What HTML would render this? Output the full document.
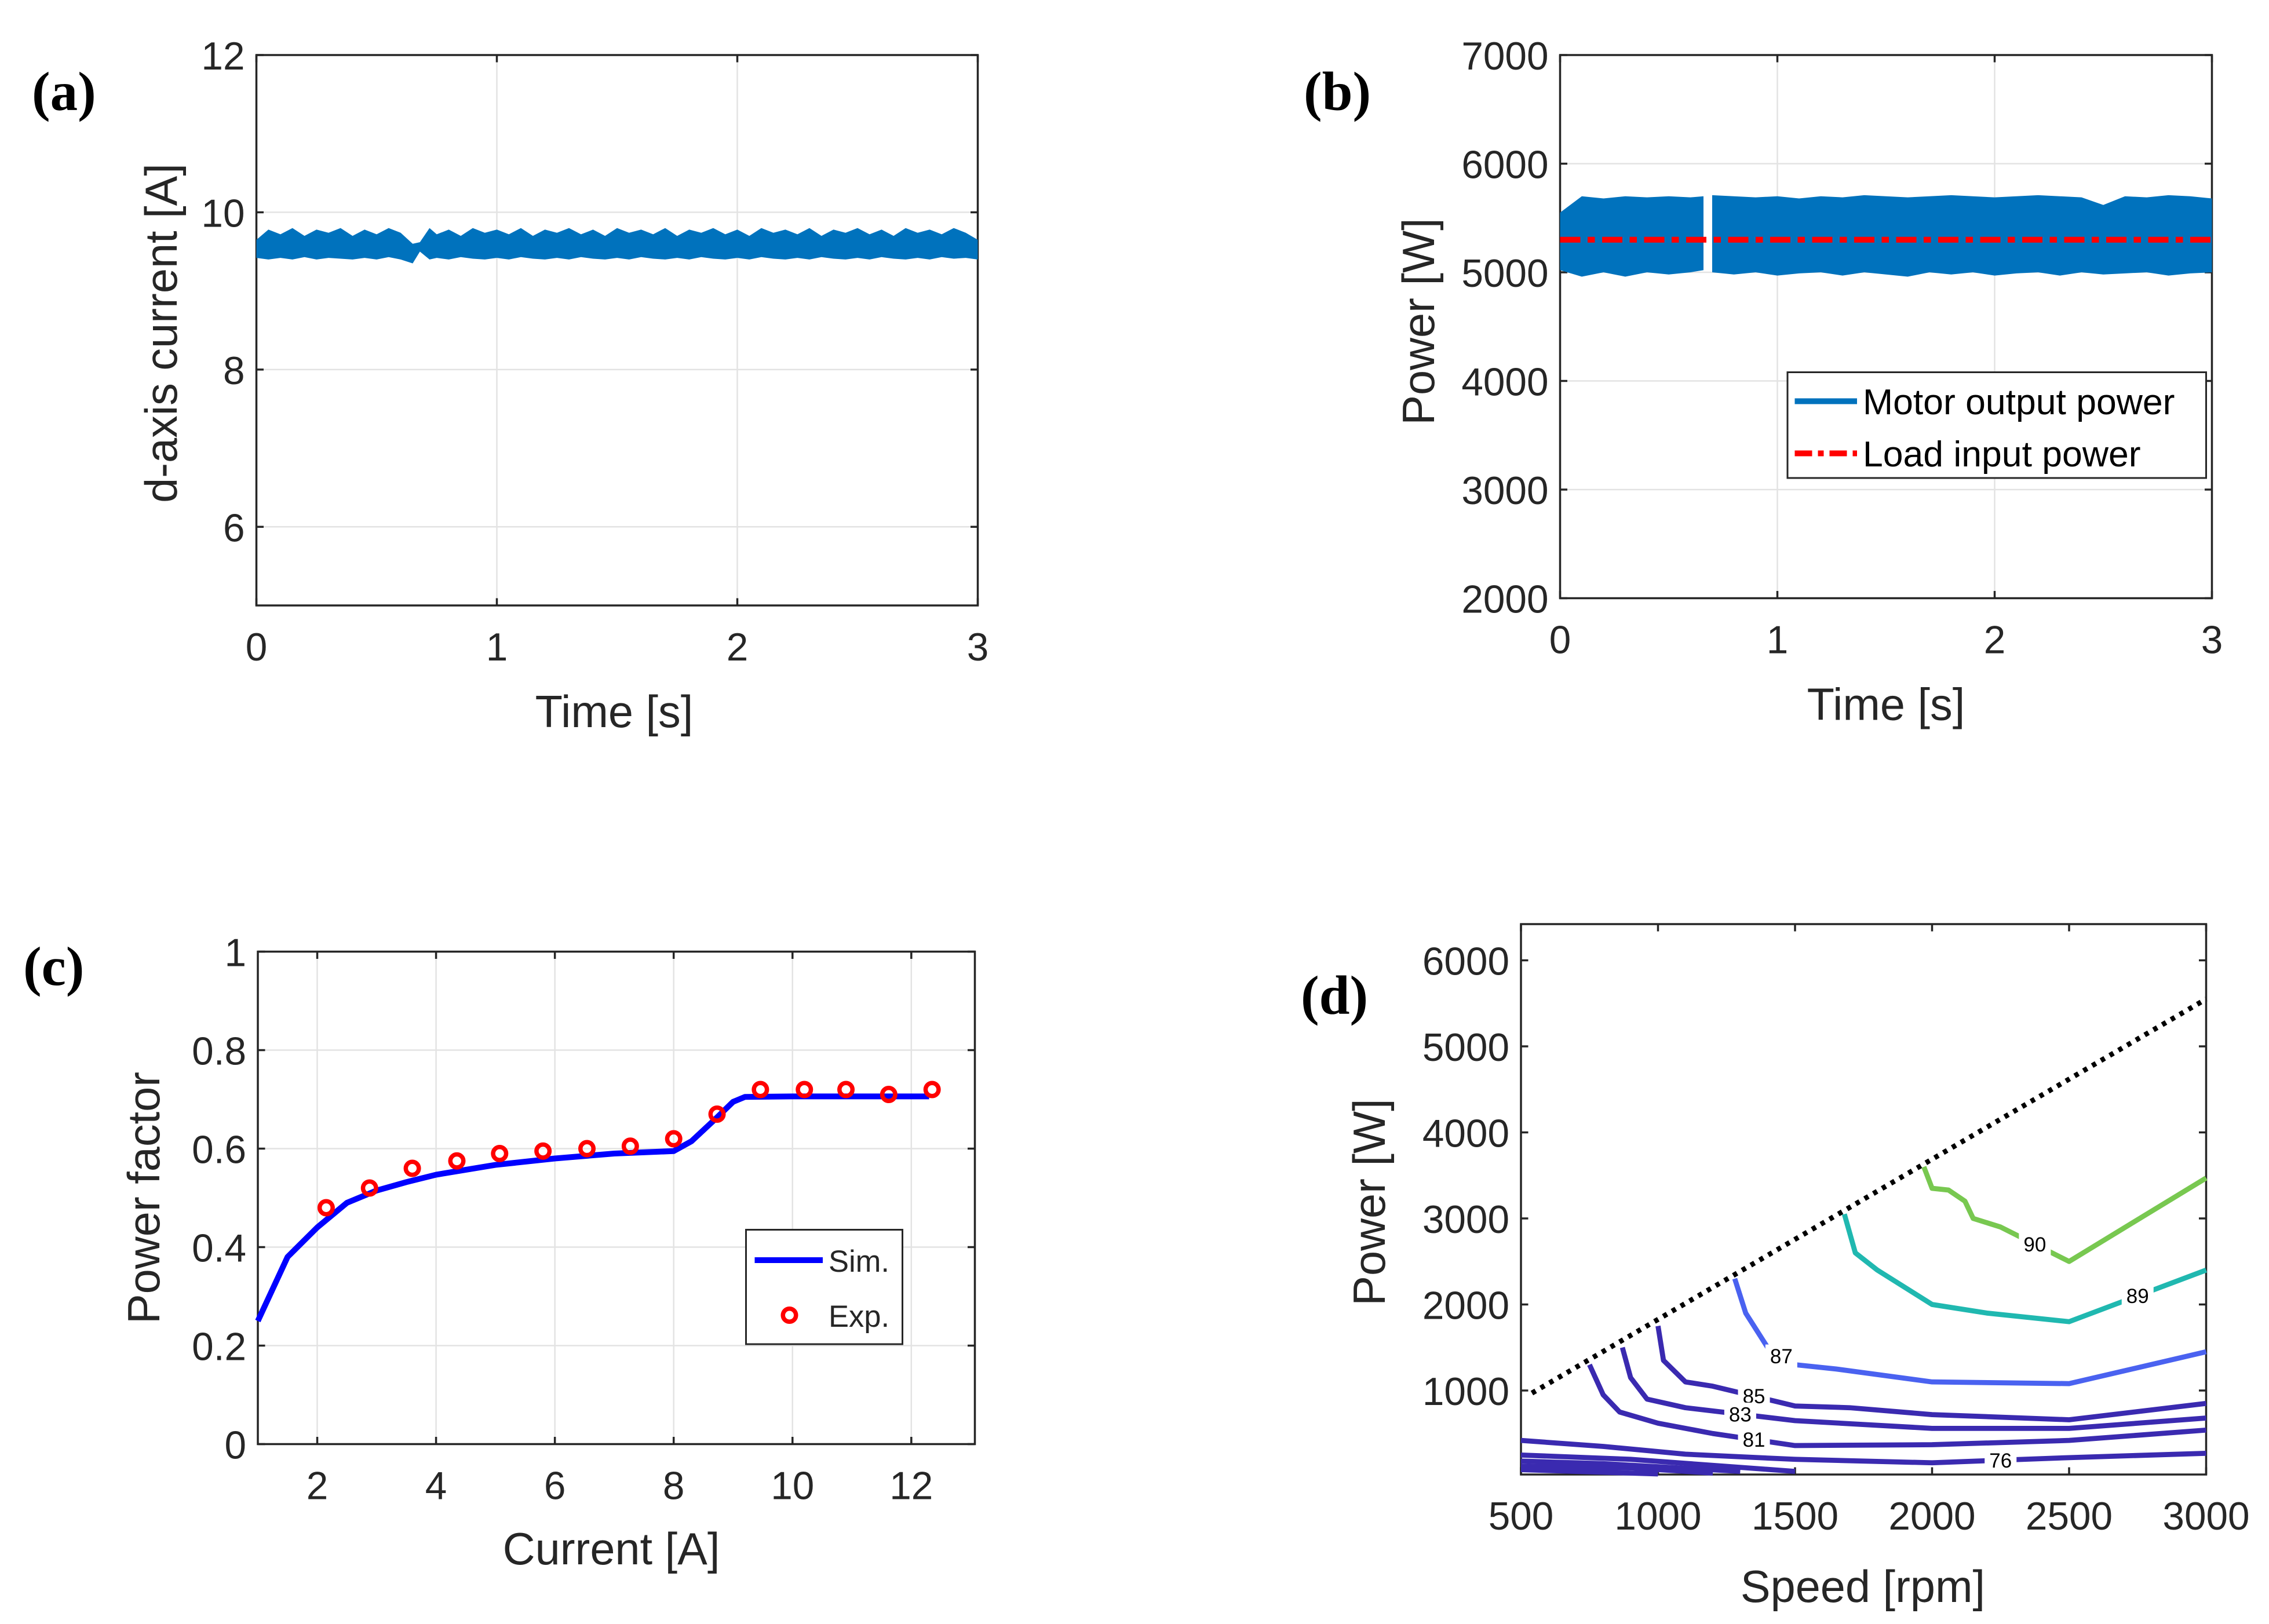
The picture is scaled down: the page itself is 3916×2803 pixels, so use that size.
<!DOCTYPE html>
<html><head><meta charset="utf-8">
<style>
html,body{margin:0;padding:0;background:#fff;}
svg{display:block;}
text{font-family:"Liberation Sans",sans-serif;fill:#262626;}
.pl{font-family:"Liberation Serif",serif;font-weight:bold;fill:#000;font-size:38px;}
.tk{font-size:27px;}
.lab{font-size:31px;}
.grid{stroke:#e3e3e3;stroke-width:1;}
.ax{stroke:#262626;stroke-width:1.4;fill:none;}
</style></head>
<body>
<svg id="fig" width="3916" height="2803" viewBox="0 0 1566.4 1121.2">
<rect width="1566.4" height="1121.2" fill="#fff"/>
<g id="ga"></g>
<g id="gb"></g>
<g id="gc"></g>
<g id="gd"></g>
</svg>
<script>
// ---- Panel (a) data ----
const aTime=[0,0.05,0.1,0.15,0.2,0.25,0.3,0.35,0.4,0.45,0.5,0.55,0.6,0.65,0.68,0.72,0.75,0.8,0.85,0.9,0.95,1,1.05,1.1,1.15,1.2,1.25,1.3,1.35,1.4,1.45,1.5,1.55,1.6,1.65,1.7,1.75,1.8,1.85,1.9,1.95,2,2.05,2.1,2.15,2.2,2.25,2.3,2.35,2.4,2.45,2.5,2.55,2.6,2.65,2.7,2.75,2.8,2.85,2.9,2.95,3];
const aUpper=[9.65,9.78,9.72,9.8,9.7,9.78,9.74,9.8,9.7,9.78,9.72,9.8,9.74,9.6,9.62,9.8,9.72,9.78,9.7,9.8,9.74,9.78,9.72,9.8,9.7,9.78,9.74,9.8,9.72,9.78,9.7,9.8,9.74,9.78,9.72,9.8,9.7,9.78,9.74,9.8,9.72,9.78,9.7,9.8,9.74,9.78,9.72,9.8,9.7,9.78,9.74,9.8,9.72,9.78,9.7,9.8,9.74,9.78,9.72,9.8,9.74,9.65];
const aLower=[9.42,9.4,9.42,9.4,9.43,9.4,9.42,9.41,9.4,9.42,9.4,9.43,9.4,9.35,9.5,9.4,9.42,9.4,9.43,9.41,9.4,9.42,9.4,9.43,9.41,9.4,9.42,9.4,9.43,9.41,9.4,9.42,9.4,9.43,9.41,9.4,9.42,9.4,9.43,9.41,9.4,9.42,9.4,9.43,9.41,9.4,9.42,9.4,9.43,9.41,9.4,9.42,9.4,9.43,9.41,9.4,9.42,9.4,9.43,9.41,9.42,9.4];
const aXTicks=[0,1,2,3];
const aYTicks=[6,8,10,12];
// ---- Panel (b) data ----
const bTime=[0,0.1,0.2,0.3,0.4,0.5,0.6,0.66,0.7,0.8,0.9,1,1.1,1.2,1.3,1.4,1.5,1.6,1.7,1.8,1.9,2,2.1,2.2,2.3,2.4,2.5,2.6,2.7,2.8,2.9,3];
const bUpper=[5550,5700,5680,5700,5690,5700,5690,5700,5710,5700,5690,5700,5680,5700,5690,5710,5700,5690,5700,5710,5700,5690,5700,5710,5700,5690,5620,5700,5690,5710,5700,5680];
const bLower=[5020,4960,5000,4960,5000,4980,5000,5020,5000,4980,5000,4970,4990,5000,4970,5000,4980,4960,5000,4980,5000,4970,4990,5000,4970,5000,4980,4990,5000,4970,4990,5000];
const bGap=[0.66,0.7];
const bLoad=5300;
const bXTicks=[0,1,2,3];
const bYTicks=[2000,3000,4000,5000,6000,7000];
// ---- Panel (c) data ----
const cSimX=[1,1.5,2,2.5,3,3.5,4,5,6,7,8,8.3,8.7,9,9.2,10,11,12.3];
const cSimY=[0.25,0.38,0.44,0.49,0.515,0.532,0.547,0.567,0.58,0.59,0.595,0.615,0.66,0.695,0.705,0.706,0.706,0.706];
const cExpX=[2.15,2.88,3.6,4.35,5.07,5.8,6.54,7.27,8,8.73,9.46,10.2,10.9,11.62,12.35];
const cExpY=[0.48,0.52,0.56,0.575,0.59,0.595,0.6,0.605,0.62,0.67,0.72,0.72,0.72,0.71,0.72];
const cXTicks=[2,4,6,8,10,12];
const cYTicks=[0,0.2,0.4,0.6,0.8,1];
// ---- Panel (d) data ----
const dLimitX=[540,3000];
const dLimitY=[970,5550];
const dLevels=[90,89,87,85,83,81,76];
const dColors=["#78c850","#20b8b0","#4a62f0","#3a2ab0","#3a2ab0","#3a2ab0","#3a2ab0"];
const dLabelSeg=[5,5,2,3,3,4,4];
const dC90x=[1970,2000,2060,2120,2150,2250,2500,3000], dC90y=[3600,3350,3330,3200,3000,2900,2500,3470];
const dC89x=[1680,1720,1800,2000,2200,2500,3000], dC89y=[3050,2600,2400,2000,1900,1800,2400];
const dC87x=[1280,1320,1400,1500,1650,2000,2500,3000], dC87y=[2300,1900,1500,1300,1250,1100,1080,1450];
const dC85x=[1000,1020,1100,1200,1500,1700,2000,2500,3000], dC85y=[1750,1350,1100,1050,820,800,720,660,850];
const dC83x=[870,900,960,1100,1500,2000,2500,3000], dC83y=[1500,1150,900,800,650,560,560,680];
const dC81x=[750,800,860,1000,1200,1500,2000,2500,3000], dC81y=[1300,950,750,620,500,360,370,420,540];
const dC76x=[500,800,1100,1500,2000,2500,3000], dC76y=[420,350,260,200,160,220,270];
const dLowX=[[500,900,1500],[500,800,1300],[500,900,1200],[500,700,1000]];
const dLowY=[[250,200,60],[180,150,60],[120,100,40],[80,60,30]];
const dXTicks=[500,1000,1500,2000,2500,3000];
const dYTicks=[1000,2000,3000,4000,5000,6000];

const NS="http://www.w3.org/2000/svg";
function mk(p,tag,at,txt){const e=document.createElementNS(NS,tag);for(const k in at)e.setAttribute(k,at[k]);if(txt!==undefined)e.textContent=txt;p.appendChild(e);return e;}
function lin(d0,d1,r0,r1){return v=>r0+(v-d0)*(r1-r0)/(d1-d0);}
function frame(g,L,R,T,B,xs,ys,xt,yt,gridOn){
  if(gridOn){xt.forEach(v=>{const l=mk(g,'line',{x1:xs(v),x2:xs(v),y1:T,y2:B,class:'grid'});});
  yt.forEach(v=>{const l=mk(g,'line',{x1:L,x2:R,y1:ys(v),y2:ys(v),class:'grid'});});}
  const r=mk(g,'rect',{x:L,y:T,width:R-L,height:B-T,class:'ax'});
  
  xt.forEach(v=>{mk(g,'line',{x1:xs(v),x2:xs(v),y1:B,y2:B-5,class:'ax'});mk(g,'line',{x1:xs(v),x2:xs(v),y1:T,y2:T+5,class:'ax'});
    const t=mk(g,'text',{x:xs(v),y:B+38,'text-anchor':'middle',class:'tk'},v);
    });
  yt.forEach(v=>{mk(g,'line',{x1:L,x2:L+5,y1:ys(v),y2:ys(v),class:'ax'});mk(g,'line',{x1:R,x2:R-5,y1:ys(v),y2:ys(v),class:'ax'});
    const t=mk(g,'text',{x:L-8,y:ys(v)+10,'text-anchor':'end',class:'tk'},v);
    });
}
function band(g,xs,ys,t,up,lo,col){
  let pts=t.map((v,i)=>xs(v)+','+ys(up[i]));
  for(let i=t.length-1;i>=0;i--)pts.push(xs(t[i])+','+ys(lo[i]));
  return mk(g,'polygon',{points:pts.join(' '),fill:col});
}
// Panel a
(function(){
  const g=document.getElementById('ga');
  const xs=lin(0,3,177,675), ys=lin(5,12,418,38);
  frame(g,177,675,38,418,xs,ys,aXTicks,aYTicks,true);
  const p=band(g,xs,ys,aTime,aUpper,aLower,'#0072bd');
  
  let t=mk(g,'text',{x:424,y:502,'text-anchor':'middle',class:'lab'},'Time [s]');
  
  t=mk(g,'text',{x:0,y:0,transform:'translate(122,230) rotate(-90)','text-anchor':'middle',class:'lab'},'d-axis current [A]');
  
  t=mk(g,'text',{x:22,y:76,class:'pl'},'(a)');
  
})();
// Panel b
(function(){
  const g=document.getElementById('gb');
  const xs=lin(0,3,1077,1527), ys=lin(2000,7000,413,38);
  frame(g,1077,1527,38,413,xs,ys,bXTicks,bYTicks,true);
  const i0=bTime.indexOf(bGap[0]),i1=bTime.indexOf(bGap[1]);
  let p=band(g,xs,ys,bTime.slice(0,i0+1),bUpper.slice(0,i0+1),bLower.slice(0,i0+1),'#0072bd');
  
  p=band(g,xs,ys,bTime.slice(i1),bUpper.slice(i1),bLower.slice(i1),'#0072bd');
  
  p=mk(g,'line',{x1:xs(0),x2:xs(3),y1:ys(bLoad),y2:ys(bLoad),stroke:'#ff0000','stroke-width':4,'stroke-dasharray':'14 5 5 5'});
  
  const lg=mk(g,'g',{});
  mk(lg,'rect',{x:1234,y:257,width:289,height:73,fill:'#fff',stroke:'#262626','stroke-width':1.2});
  mk(lg,'line',{x1:1239,x2:1282,y1:277,y2:277,stroke:'#0072bd','stroke-width':4});
  mk(lg,'line',{x1:1239,x2:1282,y1:313,y2:313,stroke:'#ff0000','stroke-width':4,'stroke-dasharray':'12 4 4 4'});
  let t=mk(lg,'text',{x:1286,y:286,style:'font-size:25px;fill:#000'},'Motor output power');
  
  t=mk(lg,'text',{x:1286,y:322,style:'font-size:25px;fill:#000'},'Load input power');
  
  t=mk(g,'text',{x:1302,y:497,'text-anchor':'middle',class:'lab'},'Time [s]');
  
  t=mk(g,'text',{x:0,y:0,transform:'translate(990,222) rotate(-90)','text-anchor':'middle',class:'lab'},'Power [W]');
  
  t=mk(g,'text',{x:900,y:76,class:'pl'},'(b)');
  
})();
// Panel c
(function(){
  const g=document.getElementById('gc');
  const xs=lin(1,13.07,178,673), ys=lin(0,1,997,657);
  frame(g,178,673,657,997,xs,ys,cXTicks,cYTicks,true);
  let p=mk(g,'polyline',{points:cSimX.map((v,i)=>xs(v)+','+ys(cSimY[i])).join(' '),fill:'none',stroke:'#0000ff','stroke-width':4,'stroke-linejoin':'round'});
  
  cExpX.forEach((v,i)=>{const c=mk(g,'circle',{cx:xs(v),cy:ys(cExpY[i]),r:4.5,fill:'none',stroke:'#ff0000','stroke-width':3});
    });
  const lg=mk(g,'g',{});
  mk(lg,'rect',{x:515,y:849,width:108,height:79,fill:'#fff',stroke:'#262626','stroke-width':1.2});
  mk(lg,'line',{x1:521,x2:568,y1:870,y2:870,stroke:'#0000ff','stroke-width':4});
  mk(lg,'circle',{cx:545,cy:908,r:4.5,fill:'none',stroke:'#ff0000','stroke-width':3});
  let t=mk(lg,'text',{x:572,y:878,style:'font-size:21px'},'Sim.');
  
  t=mk(lg,'text',{x:572,y:916,style:'font-size:21px'},'Exp.');
  
  t=mk(g,'text',{x:422,y:1080,'text-anchor':'middle',class:'lab'},'Current [A]');
  
  t=mk(g,'text',{x:0,y:0,transform:'translate(110,827) rotate(-90)','text-anchor':'middle',class:'lab'},'Power factor');
  
  t=mk(g,'text',{x:16,y:680,class:'pl'},'(c)');
  
})();
// Panel d
(function(){
  const g=document.getElementById('gd');
  const xs=lin(500,3000,1050,1523), ys=lin(1000,6000,960,663);
  frame(g,1050,1523,638,1018,xs,ys,dXTicks,dYTicks,false);
  dLowX.forEach((xa,k)=>{const p=mk(g,'polyline',{points:xa.map((v,i)=>xs(v)+','+ys(dLowY[k][i])).join(' '),fill:'none',stroke:'#3a2ab0','stroke-width':3.5});
    });
  const sets=[[dC90x,dC90y],[dC89x,dC89y],[dC87x,dC87y],[dC85x,dC85y],[dC83x,dC83y],[dC81x,dC81y],[dC76x,dC76y]];
  sets.forEach((s,k)=>{
    const p=mk(g,'polyline',{points:s[0].map((v,i)=>xs(v)+','+ys(s[1][i])).join(' '),fill:'none',stroke:dColors[k],'stroke-width':3.5,'stroke-linejoin':'round'});
    
  });
  sets.forEach((s,k)=>{
    const j=Math.min(dLabelSeg[k],s[0].length-2);
    const lx=(xs(s[0][j])+xs(s[0][j+1]))/2, ly=(ys(s[1][j])+ys(s[1][j+1]))/2;
    mk(g,'rect',{x:lx-11,y:ly-8,width:22,height:16,fill:'#fff'});
    const t=mk(g,'text',{x:lx,y:ly+5,'text-anchor':'middle',style:'font-size:14px;fill:#000'},dLevels[k]);
    
  });
  let p=mk(g,'line',{x1:xs(dLimitX[0]),y1:ys(dLimitY[0]),x2:xs(dLimitX[1]),y2:ys(dLimitY[1]),stroke:'#000','stroke-width':3.5,'stroke-dasharray':'3 4'});
  
  let t=mk(g,'text',{x:1286,y:1106,'text-anchor':'middle',class:'lab'},'Speed [rpm]');
  
  t=mk(g,'text',{x:0,y:0,transform:'translate(956,830) rotate(-90)','text-anchor':'middle',class:'lab'},'Power [W]');
  
  t=mk(g,'text',{x:898,y:700,class:'pl'},'(d)');
  
})();
</script>
</body></html>
